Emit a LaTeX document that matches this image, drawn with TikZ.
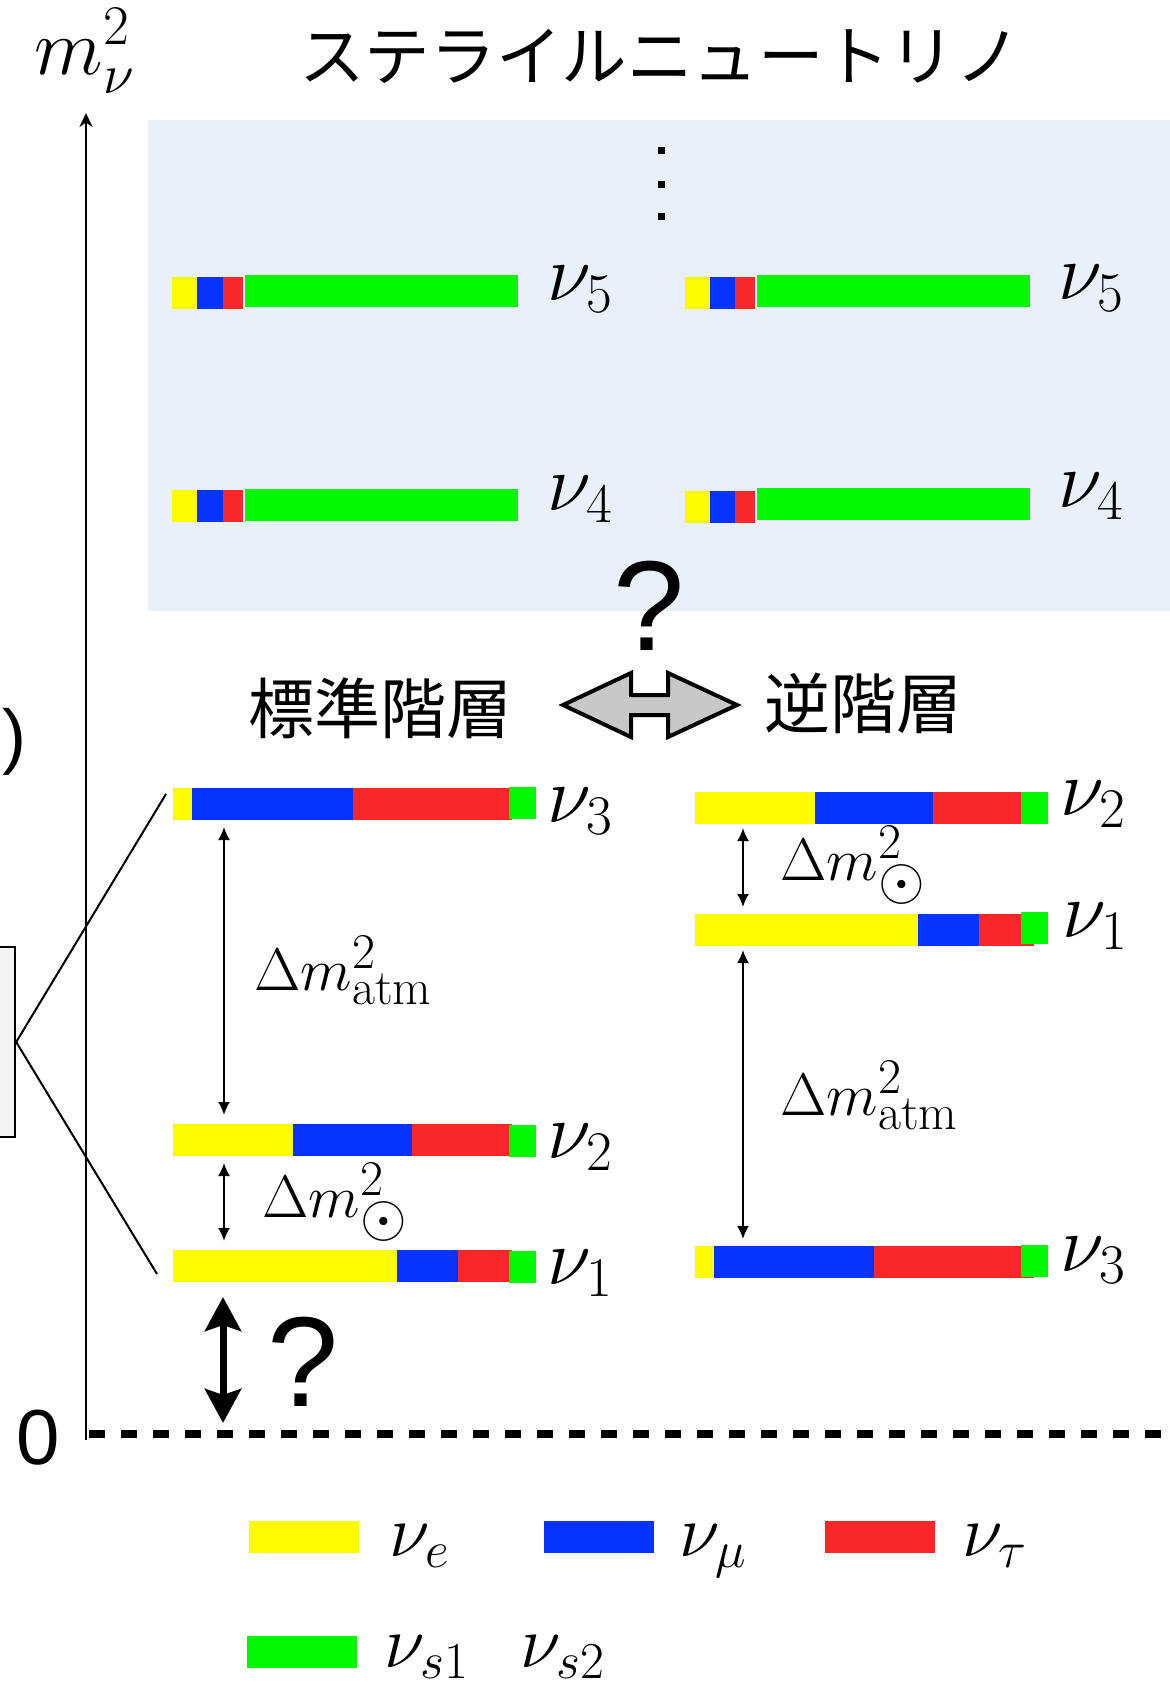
\RequirePackage{fix-cm}
\documentclass[tikz,border=0pt]{standalone}
\usepackage{fontspec}
\newfontfamily\jpfont{Noto Sans CJK JP}
\newfontfamily\hvfont{Liberation Sans}
\usetikzlibrary{arrows.meta}
\DeclareMathSizes{30}{30}{25}{18}
\newcommand{\solsub}{\lower2.5pt\hbox{$\odot$}}
\definecolor{cy}{RGB}{255,251,0}
\definecolor{cb}{RGB}{4,51,255}
\definecolor{cr}{RGB}{248,39,42}
\definecolor{cg}{RGB}{0,249,0}
\definecolor{bgblue}{RGB}{232,240,250}
\definecolor{arrgray}{RGB}{200,200,200}
\definecolor{boxgray}{RGB}{244,244,244}
\begin{document}
\begin{tikzpicture}[x=0.5pt,y=-0.5pt,
  nl/.style={anchor=base west, inner sep=0pt, font=\fontsize{40}{48}\selectfont},
  dl/.style={anchor=base west, inner sep=0pt, font=\fontsize{30}{36}\selectfont},
  lg/.style={anchor=base west, inner sep=0pt, font=\fontsize{37}{44}\selectfont},
  jp/.style={inner sep=0pt, font=\jpfont\fontsize{33}{36}\selectfont},
  qm/.style={anchor=base, inner sep=0pt, font=\hvfont\fontsize{64}{70}\selectfont},
  gaparrow/.style={{Latex[length=6.5pt,width=6pt]}-{Latex[length=6.5pt,width=6pt]}, line width=1pt},
  bigarrow/.style={{Stealth[length=17pt,width=18pt,inset=3pt]}-{Stealth[length=17pt,width=18pt,inset=3pt]}, line width=3.5pt},
  legbox/.style={inner sep=0pt, minimum width=55pt, minimum height=16pt},
]
\useasboundingbox (0,0) rectangle (1170,1682);
\fill[white] (0,0) rectangle (1170,1682);

% sterile background
\fill[bgblue] (148,120) rectangle (1170,611);

% axis
\coordinate (axb) at (86,1440);
\coordinate (axt) at (86,113);
\draw[line width=1.2pt, -{Stealth[length=7pt,width=6.5pt]}] (axb) -- (axt);
\node[anchor=base, inner sep=0pt, font=\fontsize{40}{48}\selectfont] (mlab) at (85,74) {$m_\nu^2$};

% zero line
\coordinate (z0a) at (89,1434);
\coordinate (z0b) at (1170,1434);
\draw[line width=4pt, dash pattern=on 8pt off 8pt] (z0a) -- (z0b);
\node[anchor=base, inner sep=0pt, font=\hvfont\fontsize{39}{44}\selectfont] (zero) at (38,1464) {0};

% title
\node[jp, font=\jpfont\fontsize{32.8}{36}\selectfont] (title) at (660,56) {ステライルニュートリノ};

% dots
\foreach \yy/\nm in {150/d1,184/d2,216/d3}
  \node[fill=black, inner sep=0pt, minimum size=3.5pt] (\nm) at (661,\yy) {};

% sterile bars left
\fill[cy] (172,277) rectangle (197,309);
\fill[cb] (197,277) rectangle (223,309);
\fill[cr] (223,277) rectangle (243,309);
\fill[cg] (245,275) rectangle (518,307);
\node[nl] (ls5) at (547,300) {$\nu_5$};
\fill[cy] (172,490) rectangle (197,522);
\fill[cb] (197,490) rectangle (223,522);
\fill[cr] (223,490) rectangle (243,522);
\fill[cg] (245,489) rectangle (518,521);
\node[nl] (ls4) at (547,510) {$\nu_4$};
% sterile bars right
\fill[cy] (685,277) rectangle (710,309);
\fill[cb] (710,277) rectangle (735,309);
\fill[cr] (735,277) rectangle (755,309);
\fill[cg] (757,275) rectangle (1030,307);
\node[nl] (rs5) at (1058,299) {$\nu_5$};
\fill[cy] (685,491) rectangle (710,523);
\fill[cb] (710,491) rectangle (735,523);
\fill[cr] (735,491) rectangle (755,523);
\fill[cg] (757,488) rectangle (1030,520);
\node[nl] (rs4) at (1058,507) {$\nu_4$};

% question + double arrow
\node[qm] (q1) at (649,650) {?};
\draw[line width=2pt, fill=arrgray, line join=miter]
  (563,705) -- (631,673) -- (631,695) -- (668,695) -- (668,673) -- (737,705)
  -- (668,737) -- (668,715) -- (631,715) -- (631,737) -- cycle;
\node[jp] (normal) at (380,708) {標準階層};
\node[jp] (inverted) at (863,703) {逆階層};

% normal hierarchy bars
\fill[cy] (173,788) rectangle (192,820);
\fill[cb] (192,788) rectangle (353,820);
\fill[cr] (353,788) rectangle (512,820);
\fill[cg] (509,787) rectangle (536,819);
\node[nl] (n3) at (547,822) {$\nu_3$};
\fill[cy] (173,1124) rectangle (293,1156);
\fill[cb] (293,1124) rectangle (412,1156);
\fill[cr] (412,1124) rectangle (512,1156);
\fill[cg] (509,1125) rectangle (536,1157);
\node[nl] (n2) at (547,1158) {$\nu_2$};
\fill[cy] (173,1250) rectangle (397,1282);
\fill[cb] (397,1250) rectangle (458,1282);
\fill[cr] (458,1250) rectangle (512,1282);
\fill[cg] (509,1251) rectangle (536,1283);
\node[nl] (n1) at (547,1284) {$\nu_1$};

\coordinate (na1) at (224,827);
\coordinate (na2) at (224,1115);
\coordinate (nb1) at (224,1163);
\coordinate (nb2) at (224,1241);
\draw[gaparrow] (na1) -- (na2);
\draw[gaparrow] (nb1) -- (nb2);
\node[dl] (natm) at (254,990) {$\Delta m^2_{\rm atm}$};
\node[dl] (nsol) at (262,1217) {$\Delta m^2_{\solsub}$};

% inverted hierarchy bars
\fill[cy] (695,792) rectangle (815,824);
\fill[cb] (815,792) rectangle (933,824);
\fill[cr] (933,792) rectangle (1034,824);
\fill[cg] (1021,792) rectangle (1048,824);
\node[nl] (i2) at (1060,815) {$\nu_2$};
\fill[cy] (695,914) rectangle (918,946);
\fill[cb] (918,914) rectangle (979,946);
\fill[cr] (979,914) rectangle (1034,946);
\fill[cg] (1021,912) rectangle (1048,944);
\node[nl] (i1) at (1062,937) {$\nu_1$};
\fill[cy] (695,1246) rectangle (714,1278);
\fill[cb] (714,1246) rectangle (874,1278);
\fill[cr] (874,1246) rectangle (1034,1278);
\fill[cg] (1021,1245) rectangle (1048,1277);
\node[nl] (i3) at (1060,1271) {$\nu_3$};

\coordinate (ia1) at (743,828);
\coordinate (ia2) at (743,907);
\coordinate (ib1) at (743,950);
\coordinate (ib2) at (743,1239);
\draw[gaparrow] (ia1) -- (ia2);
\draw[gaparrow] (ib1) -- (ib2);
\node[dl] (isol) at (780,880) {$\Delta m^2_{\solsub}$};
\node[dl] (iatm) at (780,1115) {$\Delta m^2_{\rm atm}$};

% lightest mass arrow
\coordinate (z1) at (223,1297);
\coordinate (z2) at (223,1423);
\draw[bigarrow] (z1) -- (z2);
\node[qm] (q2) at (303,1406) {?};

% left box and zoom lines
\node[anchor=base, inner sep=0pt, font=\hvfont\fontsize{36}{40}\selectfont] (paren) at (14,760) {)};
\node[draw, line width=1.2pt, fill=boxgray, inner sep=0pt, minimum width=12.5pt, minimum height=95pt] (zbox) at (2.5,1042) {};
\coordinate (zt) at (166,794);
\coordinate (zb) at (157,1274);
\draw[line width=1pt] (zbox.east) -- (zt);
\draw[line width=1pt] (zbox.east) -- (zb);

% legend
\node[legbox, fill=cy] (ly) at (304,1537) {};
\node[lg] (lye) at (389,1556) {$\nu_e$};
\node[legbox, fill=cb] (lb) at (598.5,1537) {};
\node[lg] (lbm) at (679,1556) {$\nu_\mu$};
\node[legbox, fill=cr] (lr) at (880,1537) {};
\node[lg] (lrt) at (962,1556) {$\nu_\tau$};
\node[legbox, fill=cg] (lgn) at (302,1652) {};
\node[lg] (ls1) at (384,1667) {$\nu_{s1}$};
\node[lg] (ls2) at (520,1667) {$\nu_{s2}$};
\end{tikzpicture}
\end{document}
